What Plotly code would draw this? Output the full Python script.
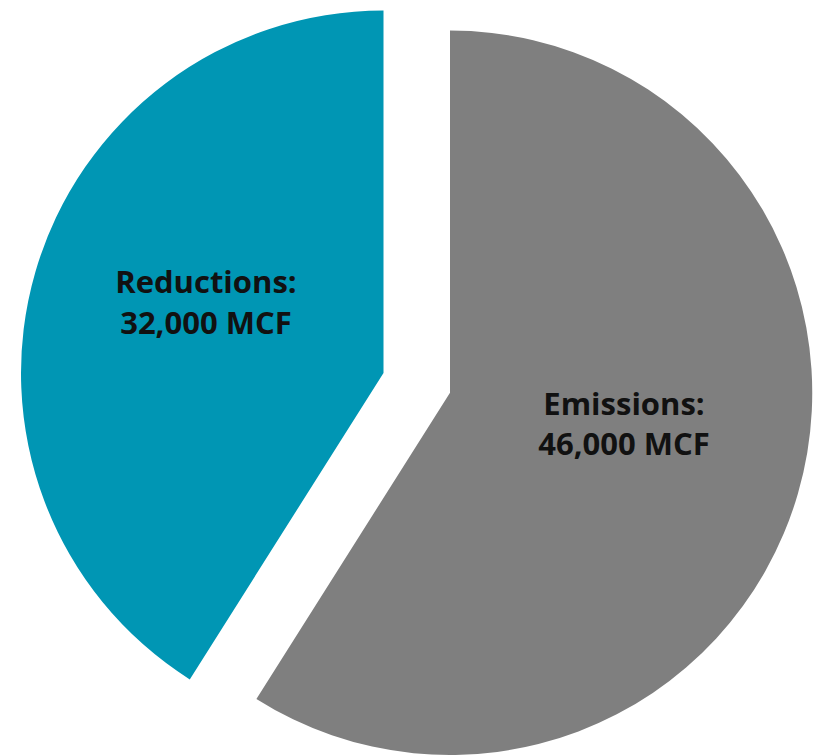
import plotly.graph_objects as go

categories = ["Emissions", "Reductions"]
values = [46000, 32000]
units = "MCF"
colors = ["#7F7F7F", "#0096B4"]

W, H = 813, 755

def label(i):
    # trailing blank line nudges the label block upward like the original
    return f"<b>{categories[i]}:<br>{values[i]:,} {units}</b><br>&nbsp;"

fig = go.Figure()

domains = [
    dict(x=[87.5 / W, 812.5 / W], y=[0.0, 1 - 30.5 / H]),
    dict(x=[21.0 / W, 746.0 / W], y=[1 - 735.5 / H, 1 - 10.5 / H]),
]

for k in range(len(categories)):
    slice_colors = [colors[i] if i == k else "rgba(0,0,0,0)" for i in range(len(categories))]
    texts = [label(i) if i == k else "" for i in range(len(categories))]
    fig.add_trace(go.Pie(
        labels=categories,
        values=values,
        sort=False,
        direction="clockwise",
        rotation=0,
        marker=dict(colors=slice_colors, line=dict(width=0)),
        text=texts,
        textinfo="text",
        textposition="inside",
        insidetextorientation="horizontal",
        insidetextfont=dict(family="Open Sans", size=31, color="#111111"),
        hoverinfo="label+value",
        domain=domains[k],
        showlegend=False,
    ))

fig.update_layout(
    width=W, height=H,
    margin=dict(l=0, r=0, t=0, b=0),
    paper_bgcolor="white",
    plot_bgcolor="white",
    showlegend=False,
)

fig.write_html("out.html")
